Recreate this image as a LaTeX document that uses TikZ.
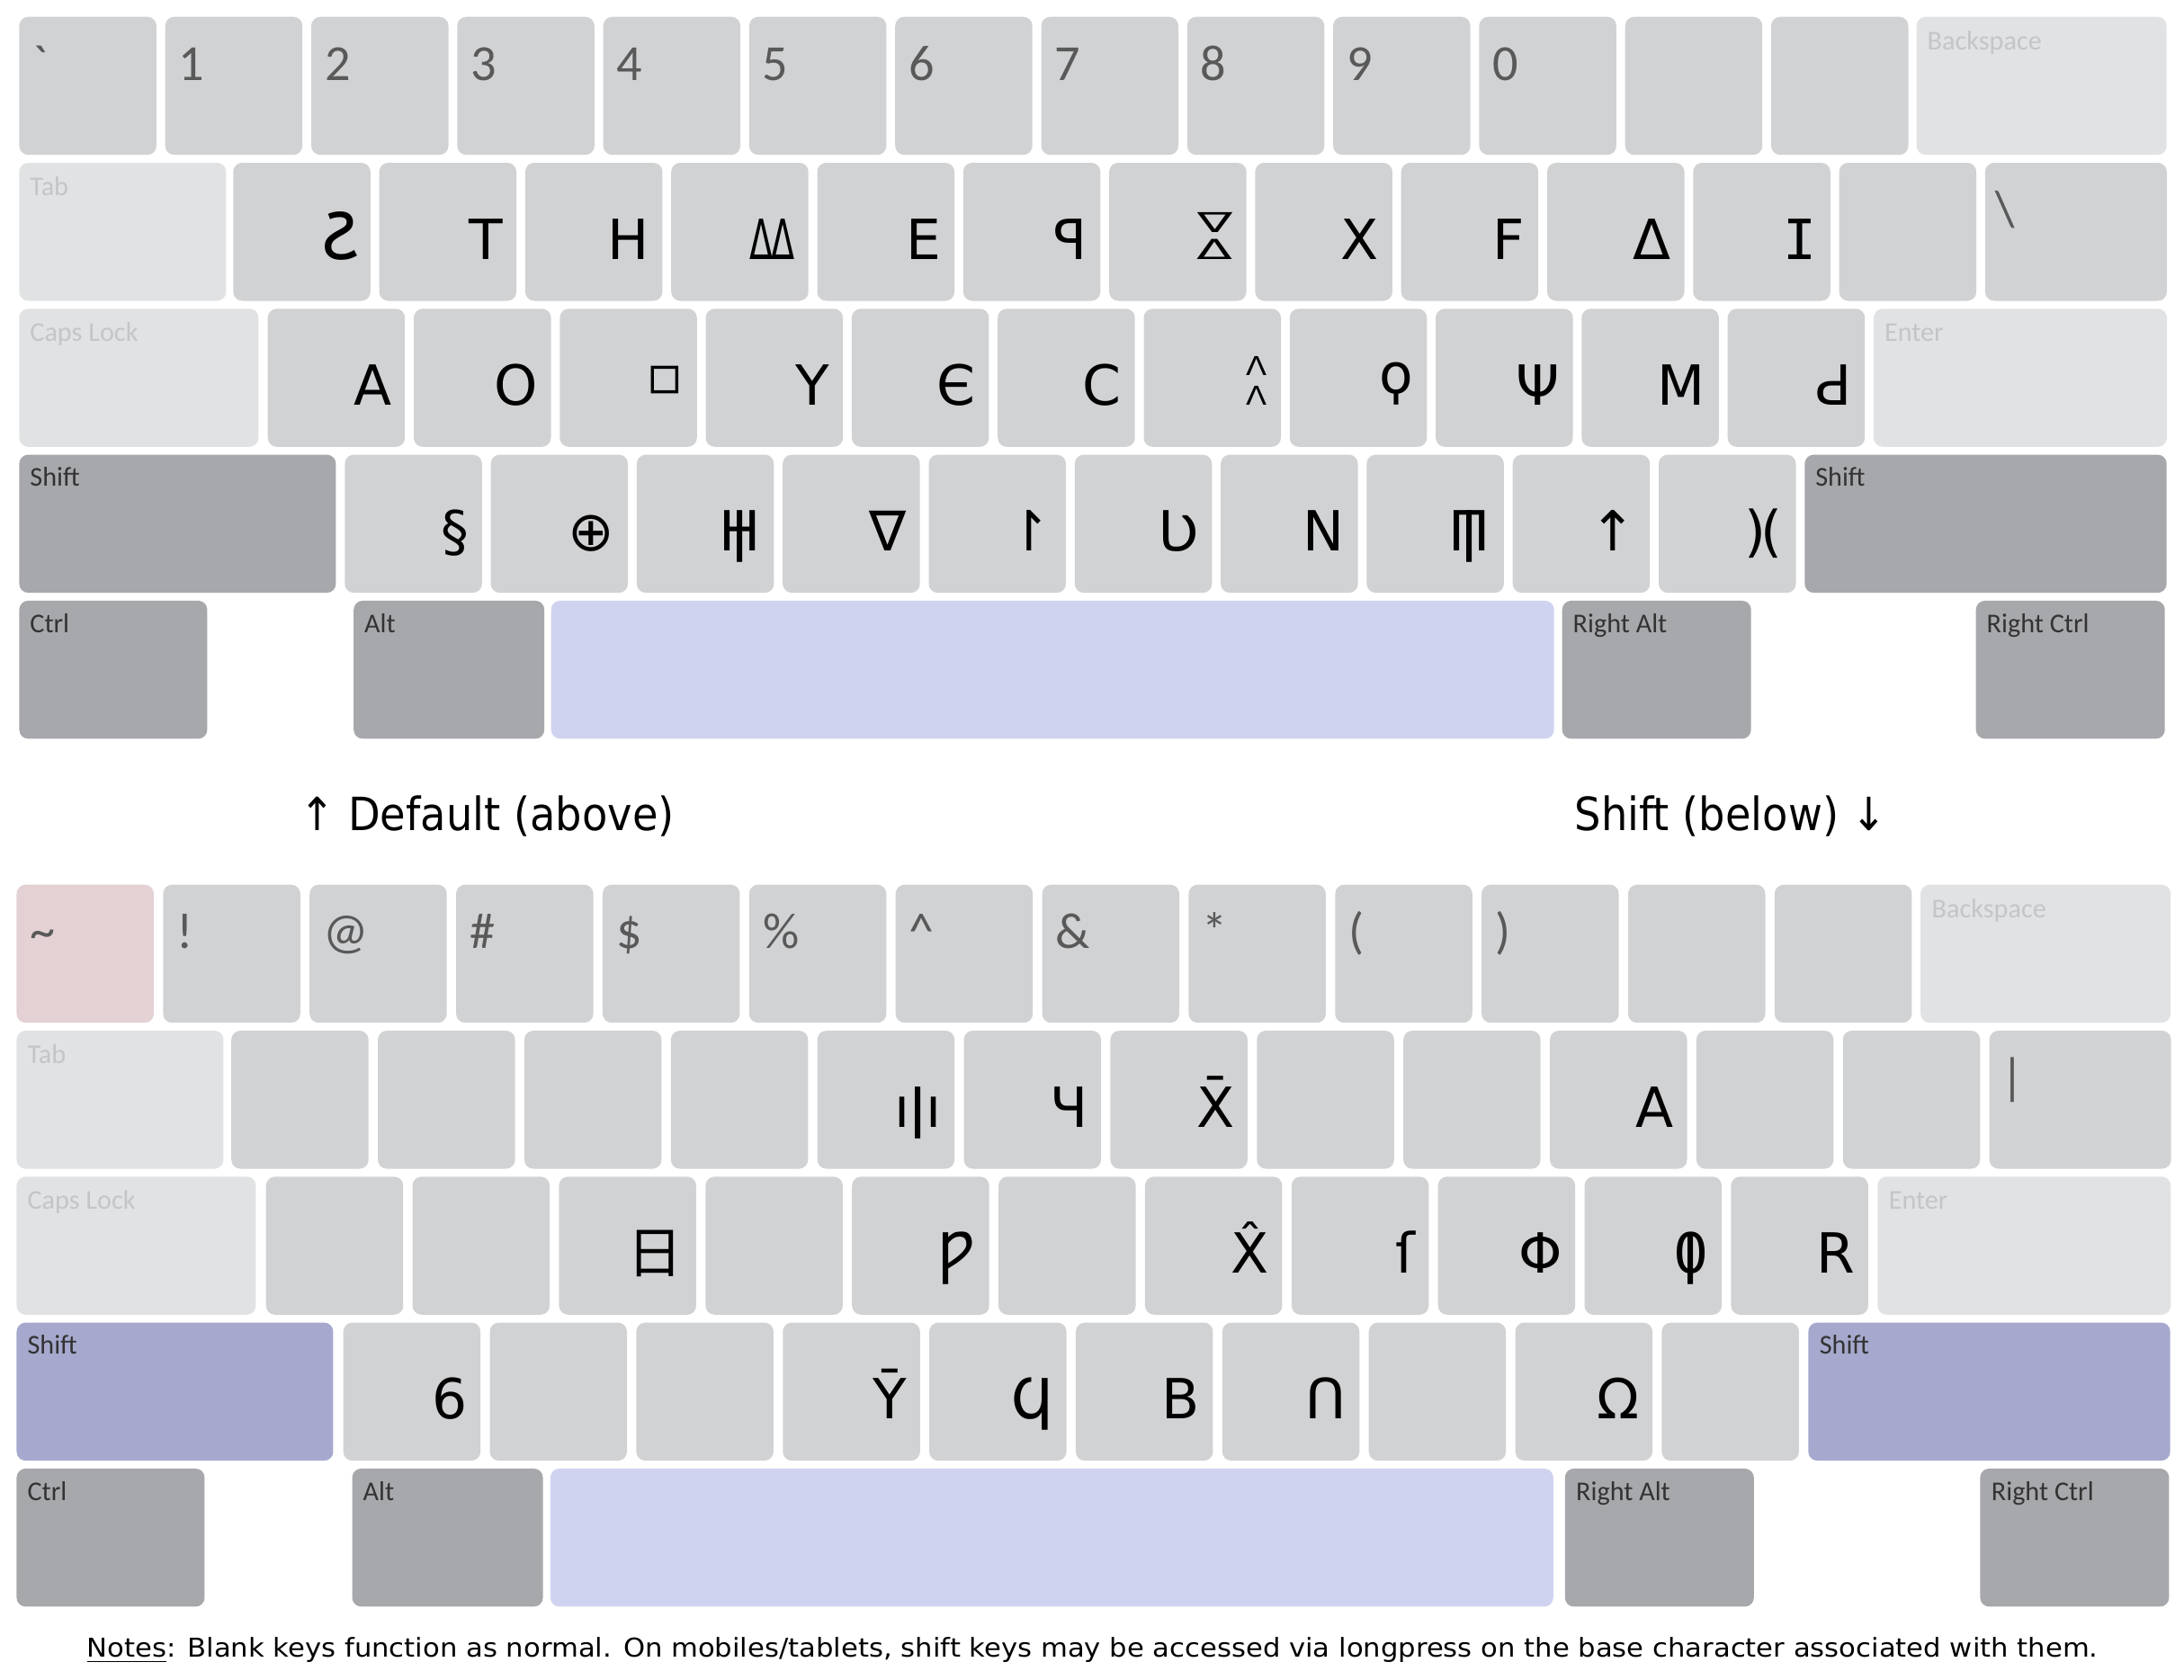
\documentclass[tikz,border=0pt]{standalone}
\usepackage{fontspec}
\usepackage{graphicx}
\setmainfont{DejaVu Sans}
\newfontfamily\capfont{Carlito}
\newfontfamily\numfont{Carlito}[Ligatures=TeXOff]
\newfontfamily\glmono{DejaVu Sans Mono}
\newfontfamily\gujfont[Script=Gujarati]{Noto Sans Gujarati UI}
\newfontfamily\cjkfont{Noto Sans CJK SC}

\definecolor{keygray}{HTML}{D1D2D4}
\definecolor{keylight}{HTML}{E1E2E3}
\definecolor{keydark}{HTML}{A7A8AB}
\definecolor{spacecol}{HTML}{D0D3F0}
\definecolor{shiftcol}{HTML}{A6A9CD}
\definecolor{tildecol}{HTML}{E3D1D4}
\definecolor{numgray}{HTML}{595959}
\definecolor{fngray}{HTML}{C4C5C8}
\definecolor{modtext}{HTML}{333333}

% composite letters of the script
\newcommand{\barH}{\ooalign{H\cr\hfil ǀ\hfil\cr}}
\newcommand{\barPi}{\ooalign{Π\cr\hfil ǀ\hfil\cr}}
\newcommand{\barO}{\ooalign{0\cr\hfil ǀ\hfil\cr}}
\newcommand{\twinDelta}{\scalebox{0.62}[1]{Δ\kern-0.06emΔ}}
\newcommand{\twocaret}{\shortstack{\scalebox{0.55}[0.47]{Λ}\\[0.5pt]\scalebox{0.55}[0.47]{Λ}}}
\newcommand{\hourglass}{\shortstack{\scalebox{0.95}[0.5]{∇}\\[-1pt]\scalebox{0.95}[0.5]{Δ}}}
\newcommand{\smallsq}{\raisebox{1.2mm}{▫}}
\newcommand{\koppa}{\raisebox{0.21em}{ϙ}}
\newcommand{\gujta}{{\gujfont\fontsize{25}{27}\selectfont ટ}}

\tikzset{
  keycap/.style={rounded corners=1mm, anchor=north west, inner sep=0pt,
    minimum width=15.25mm, minimum height=15.35mm, fill=keygray},
  fnkey/.style={keycap, fill=keylight},
  modkey/.style={keycap, fill=keydark},
  keyglyph/.style={anchor=base east, inner sep=0pt, text=black,
    font=\fontsize{17.5}{20}\selectfont},
  keynum/.style={anchor=base west, inner sep=0pt, text=numgray,
    font=\numfont\fontsize{16}{18}\selectfont},
  fnlabel/.style={anchor=base west, inner sep=0pt, text=fngray,
    font=\capfont\fontsize{8.6}{10}\selectfont},
  modlabel/.style={fnlabel, text=modtext},
  headtext/.style={anchor=base west, inner sep=0pt, font=\fontsize{14.5}{17}\selectfont},
  notetext/.style={anchor=base west, inner sep=0pt, font=\fontsize{8.2}{9}\selectfont}
}

% #1 prefix, #2 number row, #3 upper row, #4 home row, #5 lower row,
% #6 first key fill, #7 shift fill, #8 backslash key
\newcommand{\drawboard}[8]{%
  % number row
  \foreach \c [count=\i from 0] in {#2} {
    \ifnum\i=0 \def\kf{#6}\else\def\kf{keygray}\fi
    \node[keycap, fill=\kf] (#1n\i) at ({2.07+16.23*\i},1.8) {};
    \node[keynum] (#1nl\i) at ([xshift=1.5mm,yshift=-7.1mm]#1n\i.north west) {\c};
  }
  \node[fnkey, minimum width=27.8mm] (#1bksp) at (213.0,1.8) {};
  \node[fnlabel] (#1bkspl) at ([xshift=1.2mm,yshift=-3.7mm]#1bksp.north west) {Backspace};
  % upper row
  \node[fnkey, minimum width=23.0mm] (#1tab) at (2.07,18.03) {};
  \node[fnlabel] (#1tabl) at ([xshift=1.2mm,yshift=-3.7mm]#1tab.north west) {Tab};
  \foreach \g [count=\i from 0] in {#3} {
    \node[keycap] (#1u\i) at ({25.86+16.23*\i},18.03) {};
    \node[keyglyph] (#1ug\i) at ([xshift=-1.5mm,yshift=-10.8mm]#1u\i.north east) {\g};
  }
  \node[keycap, minimum width=20.2mm] (#1bsl) at (220.62,18.03) {};
  \node[keynum] (#1bsll) at ([xshift=1.2mm,yshift=-7.1mm]#1bsl.north west) {#8};
  % home row
  \node[fnkey, minimum width=26.6mm] (#1caps) at (2.07,34.26) {};
  \node[fnlabel] (#1capsl) at ([xshift=1.2mm,yshift=-3.7mm]#1caps.north west) {Caps Lock};
  \foreach \g [count=\i from 0] in {#4} {
    \node[keycap] (#1h\i) at ({29.7+16.23*\i},34.26) {};
    \node[keyglyph] (#1hg\i) at ([xshift=-1.5mm,yshift=-10.8mm]#1h\i.north east) {\g};
  }
  \node[fnkey, minimum width=32.6mm] (#1enter) at (208.23,34.26) {};
  \node[fnlabel] (#1enterl) at ([xshift=1.2mm,yshift=-3.7mm]#1enter.north west) {Enter};
  % lower row
  \node[modkey, fill=#7, minimum width=35.2mm] (#1lshift) at (2.07,50.49) {};
  \node[modlabel] (#1lshiftl) at ([xshift=1.2mm,yshift=-3.6mm]#1lshift.north west) {Shift};
  \foreach \g [count=\i from 0] in {#5} {
    \node[keycap] (#1l\i) at ({38.26+16.23*\i},50.49) {};
    \node[keyglyph] (#1lg\i) at ([xshift=-1.5mm,yshift=-10.8mm]#1l\i.north east) {\g};
  }
  \node[modkey, fill=#7, minimum width=40.24mm] (#1rshift) at (200.56,50.49) {};
  \node[modlabel] (#1rshiftl) at ([xshift=1.2mm,yshift=-3.6mm]#1rshift.north west) {Shift};
  % space row
  \node[modkey, minimum width=20.9mm] (#1ctrl) at (2.07,66.72) {};
  \node[modlabel] (#1ctrll) at ([xshift=1.2mm,yshift=-3.6mm]#1ctrl.north west) {Ctrl};
  \node[modkey, minimum width=21.2mm] (#1alt) at (39.25,66.72) {};
  \node[modlabel] (#1altl) at ([xshift=1.2mm,yshift=-3.6mm]#1alt.north west) {Alt};
  \node[keycap, fill=spacecol, minimum width=111.5mm] (#1space) at (61.2,66.72) {};
  \node[modkey, minimum width=21.0mm] (#1ralt) at (173.6,66.72) {};
  \node[modlabel] (#1raltl) at ([xshift=1.2mm,yshift=-3.6mm]#1ralt.north west) {Right Alt};
  \node[modkey, minimum width=21.0mm] (#1rctrl) at (219.6,66.72) {};
  \node[modlabel] (#1rctrll) at ([xshift=1.2mm,yshift=-3.6mm]#1rctrl.north west) {Right Ctrl};
}

\begin{document}
\begin{tikzpicture}[x=1mm, y=-1mm]
  \useasboundingbox (0,0) rectangle (242.8,186.8);

  % default layer
  \drawboard{d}{\symbol{96},1,2,3,4,5,6,7,8,9,0,{},{}}
    {\gujta,T,H,\twinDelta,E,ꟼ,\hourglass,X,F,Δ,{\glmono I},{}}
    {A,O,\smallsq,Y,Є,C,\twocaret,\koppa,Ψ,M,Ԁ}
    {§,⊕,\barH,∇,↾,Ʋ,N,\barPi,↑,)\kern-0.1em(}
    {keygray}{keydark}{\textbackslash}

  % shift layer
  \begin{scope}[shift={(-0.3,96.5)}, xscale=1.0035]
    \drawboard{s}{\textasciitilde,!,@,\#,\$,\%,\textasciicircum,\&,*,{(},{)},{},{}}
      {{},{},{},{},ıǀı,Ч,X̄,{},{},A,{},{}}
      {{},{},{\cjkfont 日},{},Ƿ,{},X̂,ſ,Φ,\barO,R}
      {6,{},{},Ȳ,Ϥ,B,Ո,{},Ω,{}}
      {tildecol}{shiftcol}{|}
  \end{scope}

  \node[headtext] (default) at (33.3,92.3) {\scalebox{0.91}[1]{↑ Default (above)}};
  \node[headtext] (shifted) at (175.0,92.3) {\scalebox{0.91}[1]{Shift (below) ↓}};
  \node[notetext] (notes) at (9.6,184.2) {\scalebox{1.064}[1]{\underline{Notes}: Blank keys function as normal. On mobiles/tablets, shift keys may be accessed via longpress on the base character associated with them.}};
\end{tikzpicture}
\end{document}
